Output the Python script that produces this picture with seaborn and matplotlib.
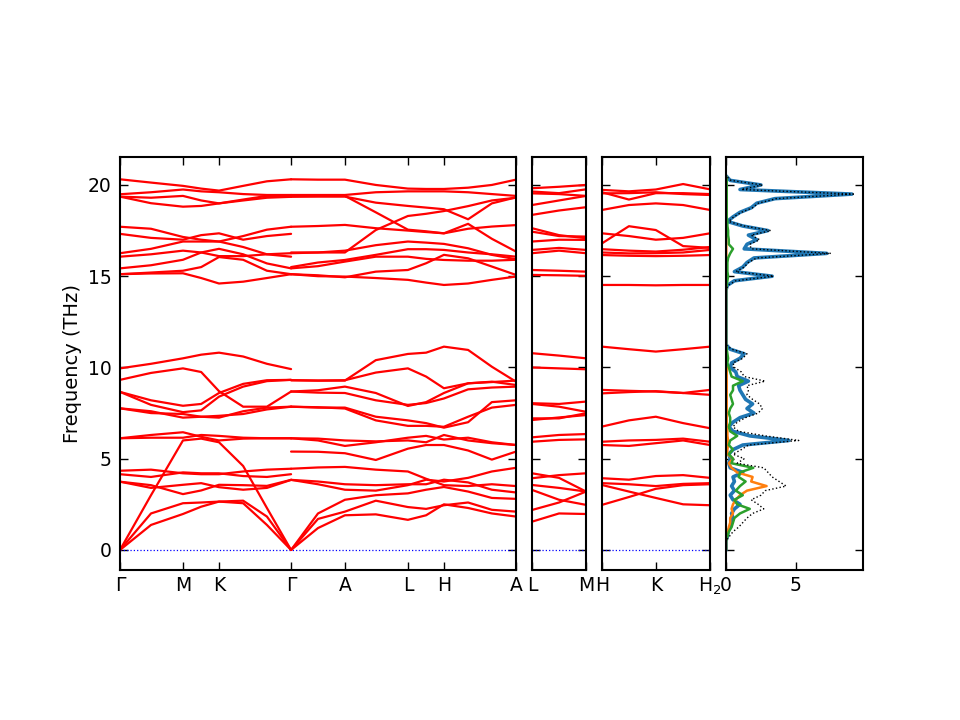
import numpy as np
import pandas as pd
import matplotlib
matplotlib.use("Agg")
import matplotlib.pyplot as plt
import seaborn as sns

# ---------------- data ----------------
# main panel: Gamma-M-K-Gamma  (k positions of sample columns)
kA = [0.0, 0.0783, 0.159, 0.205, 0.250, 0.311, 0.371, 0.432]
bandsA = {
    "A1": [0, 1.37, 1.97, 2.37, 2.65, 2.56, 1.37, 0],
    "A2": [0, 2.0, 2.56, 2.6, 2.65, 2.7, 1.83, 0],
    "A3": [0, 3.0, 6.0, 6.1, 5.9, 4.6, 2.3, 0],
    "L1": [4.34, 4.4, 4.2, 4.15, 4.15, 4.3, 4.4, 4.45],
    "L2": [4.15, 4.0, 4.25, 4.2, 4.2, 4.05, 4.0, 4.15],
    "L3": [3.74, 3.55, 3.06, 3.26, 3.57, 3.55, 3.51, 3.84],
    "L4": [3.74, 3.4, 3.57, 3.66, 3.44, 3.3, 3.4, 3.84],
    "M1": [9.95, 10.2, 10.5, 10.7, 10.81, 10.6, 10.2, 9.91],
    "M2": [9.32, 9.7, 9.95, 9.75, 8.7, 7.85, 7.85, 8.68],
    "M3": [8.66, 8.2, 7.9, 8.0, 8.6, 9.1, 9.3, 9.32],
    "M4": [8.66, 7.95, 7.55, 7.65, 8.4, 8.95, 9.25, 9.32],
    "M5": [7.76, 7.6, 7.25, 7.3, 7.35, 7.45, 7.7, 7.85],
    "M6": [7.76, 7.5, 7.45, 7.3, 7.25, 7.6, 7.8, 7.85],
    "M7": [6.12, 6.3, 6.45, 6.2, 6.0, 6.1, 6.12, 6.12],
    "M8": [6.12, 6.15, 6.15, 6.3, 6.25, 6.15, 6.12, 6.12],
    "H1": [20.31, 20.13, 19.95, 19.8, 19.69, 19.95, 20.2, 20.31],
    "H2": [19.49, 19.6, 19.75, 19.65, 19.6, 19.5, 19.45, 19.45],
    "H3": [19.36, 19.3, 19.4, 19.15, 18.99, 19.2, 19.4, 19.4],
    "H4": [19.36, 19.0, 18.81, 18.85, 18.99, 19.15, 19.3, 19.35],
    "H5": [17.71, 17.6, 17.15, 17.0, 16.9, 17.2, 17.55, 17.71],
    "H6": [17.32, 17.1, 17.0, 17.25, 17.35, 17.0, 17.2, 17.32],
    "H7": [16.26, 16.5, 16.9, 16.9, 16.9, 16.6, 16.2, 16.07],
    "H8": [16.07, 16.2, 16.4, 16.3, 16.1, 16.1, 16.2, 16.26],
    "H9": [15.43, 15.6, 15.9, 16.3, 16.5, 16.2, 15.7, 15.43],
    "H10": [15.11, 15.15, 15.16, 14.9, 14.6, 14.7, 14.9, 15.11],
    "H11": [15.11, 15.2, 15.3, 15.5, 16.05, 15.9, 15.3, 15.11],
}

# main panel: Gamma-A-L-H-A
kB = [0.432, 0.5, 0.568, 0.646, 0.727, 0.773, 0.818, 0.879, 0.939, 1.0]
bandsB = {
    "A1": [0, 1.2, 1.9, 1.95, 1.65, 1.9, 2.5, 2.3, 2.0, 1.83],
    "A2": [0, 1.7, 2.1, 2.7, 2.35, 2.25, 2.45, 2.6, 2.2, 2.1],
    "A3": [0, 2.0, 2.75, 3.0, 3.1, 3.3, 3.45, 3.2, 2.85, 2.8],
    "L1": [4.45, 4.52, 4.55, 4.4, 4.3, 3.9, 3.55, 3.5, 3.6, 3.5],
    "L2": [3.84, 3.6, 3.3, 3.25, 3.55, 3.85, 3.75, 3.95, 4.3, 4.5],
    "L3": [3.84, 3.75, 3.6, 3.55, 3.6, 3.6, 3.85, 3.7, 3.3, 3.15],
    "L4": [5.39, 5.38, 5.3, 4.93, 5.55, 5.75, 5.75, 5.45, 4.95, 5.39],
    "M1": [9.3, 9.28, 9.28, 10.4, 10.74, 10.81, 11.14, 10.96, 10.04, 9.22],
    "M2": [9.3, 9.28, 9.3, 9.72, 9.95, 9.5, 8.86, 9.13, 9.22, 9.04],
    "M3": [8.68, 8.75, 8.95, 8.6, 7.89, 8.1, 8.6, 9.13, 9.2, 9.28],
    "M4": [8.68, 8.62, 8.6, 8.2, 7.95, 8.05, 8.3, 8.8, 8.9, 8.95],
    "M5": [7.85, 7.8, 7.8, 7.3, 7.1, 6.95, 6.7, 7.0, 8.1, 8.2],
    "M6": [7.85, 7.82, 7.75, 7.1, 6.8, 6.8, 6.75, 7.3, 7.8, 7.95],
    "M7": [6.12, 6.0, 5.7, 5.9, 6.15, 6.25, 6.05, 6.15, 5.9, 5.75],
    "M8": [6.12, 6.1, 6.0, 5.95, 6.0, 5.9, 6.3, 6.0, 5.85, 5.75],
    "H1": [20.31, 20.29, 20.29, 20.0, 19.8, 19.78, 19.78, 19.85, 20.0, 20.29],
    "H2": [19.45, 19.45, 19.45, 19.6, 19.65, 19.65, 19.65, 19.6, 19.5, 19.4],
    "H3": [19.4, 19.4, 19.4, 18.5, 17.55, 17.46, 17.35, 17.87, 17.05, 16.35],
    "H4": [19.35, 19.36, 19.36, 19.03, 18.85, 18.76, 18.67, 18.12, 18.99, 19.32],
    "H5": [17.71, 17.75, 17.81, 17.63, 17.5, 17.42, 17.35, 17.6, 17.72, 17.8],
    "H6": [16.3, 16.3, 16.3, 17.53, 18.3, 18.42, 18.57, 18.84, 19.15, 19.3],
    "H7": [16.26, 16.3, 16.4, 16.7, 16.9, 16.84, 16.77, 16.53, 16.17, 15.93],
    "H8": [15.5, 15.75, 15.89, 16.17, 16.48, 16.48, 16.44, 16.3, 16.2, 16.07],
    "H9": [15.43, 15.55, 15.8, 16.07, 16.07, 15.95, 15.89, 15.85, 15.85, 15.9],
    "H10": [15.11, 15.05, 14.94, 15.25, 15.34, 15.71, 16.17, 15.98, 15.53, 15.07],
    "H11": [15.11, 15.0, 14.98, 14.9, 14.8, 14.65, 14.52, 14.6, 14.8, 14.98],
}

# second panel: L-M
kLM = [0.0, 0.068, 0.136]
bandsLM = {
    "b1": [1.55, 2.0, 1.97],
    "b2": [2.19, 2.6, 3.2],
    "b3": [3.29, 2.75, 2.47],
    "b4": [3.56, 3.4, 3.2],
    "b5": [3.93, 4.1, 4.2],
    "b6": [4.2, 3.95, 3.2],
    "b7": [5.93, 6.03, 6.06],
    "b8": [6.17, 6.3, 6.35],
    "b9": [7.12, 7.26, 7.39],
    "b10": [7.21, 7.21, 7.49],
    "b11": [8.0, 7.85, 7.57],
    "b12": [8.04, 8.0, 8.13],
    "b13": [10.0, 9.95, 9.9],
    "b14": [10.78, 10.65, 10.5],
    "b15": [15.07, 15.05, 15.02],
    "b16": [15.34, 15.3, 15.25],
    "b17": [16.26, 16.4, 16.26],
    "b18": [16.44, 16.55, 16.44],
    "b19": [16.9, 17.0, 16.99],
    "b20": [17.44, 17.2, 17.17],
    "b21": [17.63, 17.25, 17.08],
    "b22": [18.36, 18.6, 18.78],
    "b23": [18.9, 19.15, 19.4],
    "b24": [19.54, 19.5, 19.4],
    "b25": [19.64, 19.55, 19.76],
    "b26": [19.82, 19.9, 20.0],
}

# third panel: H-K-H2
kHKH = [0.0, 0.068, 0.136, 0.205, 0.273]
bandsHKH = {
    "c1": [2.47, 2.9, 3.35, 3.55, 3.6],
    "c2": [3.56, 3.2, 2.85, 2.5, 2.45],
    "c3": [3.66, 3.6, 3.5, 3.62, 3.66],
    "c4": [3.93, 3.85, 4.05, 4.1, 3.95],
    "c5": [5.75, 5.7, 5.85, 6.0, 5.75],
    "c6": [5.93, 6.0, 6.03, 6.1, 5.93],
    "c7": [6.76, 7.1, 7.3, 6.95, 6.67],
    "c8": [8.58, 8.65, 8.7, 8.6, 8.5],
    "c9": [8.77, 8.72, 8.68, 8.6, 8.77],
    "c10": [11.14, 11.0, 10.87, 11.0, 11.14],
    "c11": [14.52, 14.52, 14.5, 14.52, 14.52],
    "c12": [16.16, 16.12, 16.1, 16.12, 16.16],
    "c13": [16.3, 16.25, 16.26, 16.3, 16.44],
    "c14": [16.48, 16.4, 16.35, 16.45, 16.6],
    "c15": [16.8, 17.74, 17.53, 16.65, 16.55],
    "c16": [17.35, 17.2, 17.0, 17.1, 17.35],
    "c17": [18.63, 18.9, 18.99, 18.9, 18.63],
    "c18": [19.6, 19.2, 19.55, 19.55, 19.5],
    "c19": [19.54, 19.55, 19.6, 19.5, 19.45],
    "c20": [19.73, 19.65, 19.75, 20.05, 19.76],
}

# phonon DOS
dos_freq = [0.0, 0.25, 0.5, 0.75, 1.0, 1.25, 1.5, 1.75, 2.0, 2.25, 2.5, 2.75,
            3.0, 3.25, 3.5, 3.75, 4.0, 4.25, 4.5, 4.75, 5.0, 5.25, 5.5, 5.75,
            6.0, 6.25, 6.5, 6.75, 7.0, 7.25, 7.5, 7.75, 8.0, 8.25, 8.5, 8.75,
            9.0, 9.25, 9.5, 9.75, 10.0, 10.25, 10.5, 10.75, 11.0, 11.25, 11.5,
            12.0, 13.0, 14.0, 14.25, 14.5, 14.75, 15.0, 15.25, 15.5, 15.75,
            16.0, 16.25, 16.5, 16.75, 17.0, 17.25, 17.5, 17.75, 18.0, 18.25,
            18.5, 18.75, 19.0, 19.25, 19.5, 19.75, 20.0, 20.25, 20.5]
dos_blue = [0, 0, 0, 0.1, 0.15, 0.3, 0.4, 0.5, 0.4, 0.6, 1.0, 0.5,
            0.3, 0.6, 0.4, 0.6, 0.5, 1.2, 0.3, 0.2, 0.3, 0.2, 0.5, 1.2,
            4.5, 1.7, 0.5, 0.2, 0.5, 1.0, 2.0, 1.5, 1.9, 1.4, 1.2, 1.0,
            0.9, 1.6, 0.8, 0.7, 0.3, 0.4, 1.0, 1.3, 0.3, 0, 0,
            0, 0, 0, 0, 0.1, 0.6, 3.3, 0.6, 1.2, 1.5,
            2.0, 7.2, 1.3, 1.5, 2.2, 1.6, 3.0, 1.2, 0.1, 0.5,
            1.0, 1.8, 2.2, 3.5, 9.0, 1.0, 2.5, 0.3, 0]
dos_orange = [0, 0, 0, 0.05, 0.15, 0.2, 0.3, 0.3, 0.5, 0.4, 0.5, 0.7,
              1.0, 1.5, 2.9, 1.8, 1.9, 0.8, 0.4, 0.2, 0.5, 0.1, 0.1, 0.15,
              0.15, 0.1, 0.1, 0.05, 0.05, 0.05, 0.05, 0.05, 0.05, 0.05, 0.05, 0.05,
              0.05, 0.05, 0.05, 0.05, 0.05, 0.05, 0.05, 0.03, 0.02, 0, 0,
              0, 0, 0, 0, 0.02, 0.02, 0.02, 0.02, 0.02, 0.02,
              0.02, 0.02, 0.02, 0.02, 0.02, 0.02, 0.02, 0.02, 0.02, 0.02,
              0.02, 0.02, 0.02, 0.02, 0.02, 0.02, 0.02, 0.02, 0]
dos_green = [0, 0, 0, 0.1, 0.2, 0.4, 0.5, 0.6, 1.0, 1.7, 0.8, 0.6,
             1.2, 0.7, 1.0, 1.4, 0.9, 1.0, 1.95, 0.4, 0.5, 0.2, 0.5, 0.2,
             0.3, 0.8, 0.3, 0.2, 0.3, 0.3, 0.2, 0.3, 0.5, 0.4, 0.3, 0.5,
             0.5, 1.2, 0.4, 0.3, 0.2, 0.1, 0.15, 0.1, 0.05, 0, 0,
             0, 0, 0, 0, 0.05, 0.1, 0.15, 0.1, 0.1, 0.1,
             0.15, 0.3, 0.5, 0.2, 0.2, 0.15, 0.15, 0.1, 0.1, 0.05,
             0.05, 0.05, 0.05, 0.05, 0.05, 0.05, 0.05, 0.05, 0]
dos_total = [0, 0, 0, 0.25, 0.5, 0.9, 1.2, 1.5, 1.9, 2.7, 2.3, 1.8,
             2.5, 2.8, 4.3, 3.8, 3.3, 3.0, 2.7, 0.8, 1.3, 0.5, 1.1, 1.6,
             5.2, 2.8, 0.9, 0.5, 0.8, 1.4, 2.3, 2.6, 2.4, 1.9, 1.5, 1.6,
             1.5, 2.8, 1.3, 1.1, 0.6, 0.5, 1.2, 1.5, 0.4, 0, 0,
             0, 0, 0, 0, 0.15, 0.7, 3.4, 0.7, 1.3, 1.6,
             2.2, 7.5, 1.8, 1.7, 2.4, 1.8, 3.2, 1.3, 0.2, 0.55,
             1.1, 1.9, 2.3, 3.6, 9.1, 1.1, 2.6, 0.35, 0]

main_ticks = [0.0, 0.159, 0.250, 0.432, 0.568, 0.727, 0.818, 1.0]
main_labels = ["Γ", "M", "K", "Γ", "A", "L", "H", "A"]
lm_ticks = [0.0, 0.136]
lm_labels = ["L", "M"]
hkh_ticks = [0.0, 0.136, 0.273]
hkh_labels = ["H", "K", "H$_2$"]
freq_ticks = [0, 5, 10, 15, 20]
dos_ticks = [0, 5]

# ---------------- style ----------------
sns.set_style("ticks")
plt.rcParams["font.family"] = ["DejaVu Sans"]
plt.rcParams.update({
    "xtick.direction": "in", "ytick.direction": "in",
    "xtick.top": True, "ytick.right": True,
    "xtick.major.size": 6, "ytick.major.size": 6,
    "xtick.major.width": 1.0, "ytick.major.width": 1.0,
    "axes.linewidth": 1.5, "axes.edgecolor": "black",
    "xtick.labelsize": 13.5, "ytick.labelsize": 13.5,
    "xtick.color": "black", "ytick.color": "black",
    "xtick.labelcolor": "black", "ytick.labelcolor": "black",
    "text.color": "black", "axes.labelcolor": "black",
    "xtick.major.pad": 4, "ytick.major.pad": 6,
})


def to_long(k, bands, seg):
    rows = []
    for name, vals in bands.items():
        for kk, v in zip(k, vals):
            rows.append({"band": seg + name, "k": kk, "f": v})
    return pd.DataFrame(rows)


fig = plt.figure(figsize=(9.6, 7.2), dpi=100)
bottom, height = 0.2083, 0.5736
ylim = (-1.1, 21.53)

ax1 = fig.add_axes([0.125, bottom, 0.4125, height])
ax2 = fig.add_axes([0.5542, bottom, 0.05625, height])
ax3 = fig.add_axes([0.6271, bottom, 0.1125, height])
ax4 = fig.add_axes([0.75625, bottom, 0.1427, height])

band_sets = [
    (ax1, pd.concat([to_long(kA, bandsA, "A"), to_long(kB, bandsB, "B")]),
     (0, 1.0), main_ticks, main_labels),
    (ax2, to_long(kLM, bandsLM, "LM"), (0, 0.136), lm_ticks, lm_labels),
    (ax3, to_long(kHKH, bandsHKH, "HKH"), (0, 0.273), hkh_ticks, hkh_labels),
]
for ax, df, xl, ticks, labels in band_sets:
    ax.axhline(0, color="blue", ls=":", lw=0.9, zorder=1)
    sns.lineplot(data=df, x="k", y="f", units="band", estimator=None,
                 color="red", lw=1.6, legend=False, ax=ax, zorder=2)
    ax.set_xlim(*xl)
    ax.set_ylim(*ylim)
    ax.set_xticks(ticks)
    ax.set_xticklabels(labels)
    ax.set_yticks(freq_ticks)
    ax.set_xlabel("")
    ax.set_ylabel("")
    if ax is not ax1:
        ax.set_yticklabels([])

ax1.set_ylabel("Frequency (THz)", fontsize=14, color="black")

dos_df = pd.DataFrame({"f": dos_freq, "blue": dos_blue, "orange": dos_orange,
                       "green": dos_green, "total": dos_total})
sns.lineplot(data=dos_df, x="blue", y="f", orient="y", sort=False,
             color="#1f77b4", lw=2.6, ax=ax4)
sns.lineplot(data=dos_df, x="orange", y="f", orient="y", sort=False,
             color="#ff7f0e", lw=1.8, ax=ax4)
sns.lineplot(data=dos_df, x="green", y="f", orient="y", sort=False,
             color="#2ca02c", lw=1.8, ax=ax4)
sns.lineplot(data=dos_df, x="total", y="f", orient="y", sort=False,
             color="black", lw=1.0, ls=":", ax=ax4)
ax4.set_xlim(0, 9.79)
ax4.set_ylim(*ylim)
ax4.set_xticks(dos_ticks)
ax4.set_yticks(freq_ticks)
ax4.set_yticklabels([])
ax4.set_xlabel("")
ax4.set_ylabel("")

fig.savefig("out.png", dpi=100)
